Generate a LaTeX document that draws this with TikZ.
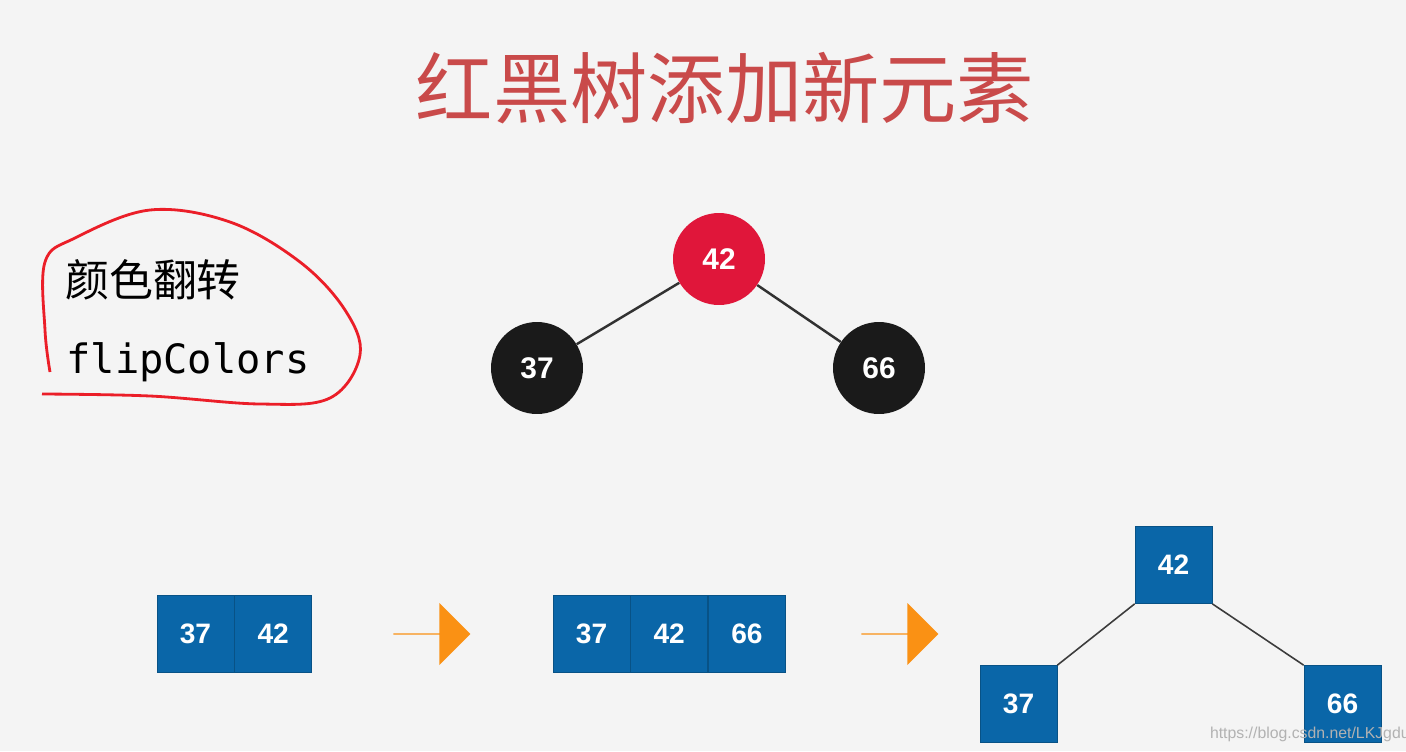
\documentclass[tikz,border=0pt]{standalone}
\usepackage{fontspec}
\setmainfont{Liberation Sans}
\newfontfamily\cjk{Noto Sans CJK SC}
\setmonofont{DejaVu Sans Mono}
\usetikzlibrary{shapes.arrows}
\definecolor{bg}{RGB}{244, 244, 244}
\definecolor{title}{RGB}{201, 74, 74}
\definecolor{rbred}{RGB}{224, 22, 58}
\definecolor{rbblack}{RGB}{26, 26, 26}
\definecolor{keyblue}{RGB}{10, 102, 168}
\definecolor{fliporange}{RGB}{250, 145, 20}
\definecolor{penred}{RGB}{235, 30, 40}

\tikzset{
  rbnode/.style={circle, minimum size=1.84cm, inner sep=0pt, text=white,
    font=\bfseries\fontsize{17}{17}\selectfont},
  keybox/.style={rectangle, fill=keyblue, draw=keyblue!80!black, line width=0.4pt,
    minimum size=1.54cm, inner sep=0pt, text=white,
    font=\bfseries\fontsize{16}{16}\selectfont},
  fliparrow/.style={single arrow, fill=fliporange, minimum height=1.54cm,
    minimum width=1.24cm, single arrow head extend=0.31cm, inner sep=0pt},
  treeedge/.style={line width=1.4pt, rbblack!90}
}

\begin{document}
\begin{tikzpicture}[x=0.02cm, y=-0.02cm]
  \fill [bg] (0, 0) rectangle (1406, 751);
  \useasboundingbox (0, 0) rectangle (1406, 751);

  \node (title) at (725, 88) [text=title, font=\cjk\fontsize{44}{44}\selectfont] {红黑树添加新元素};

  % colour flip note
  \node (flipcn) at (153, 280) [font=\cjk\fontsize{25}{25}\selectfont] {颜色翻转};
  \node (flipen) at (188, 362) [font=\ttfamily\fontsize{23}{23}\selectfont] {flipColors};
  \draw [penred, line width=1.6pt] plot [smooth, tension=0.6] coordinates {
    (50, 372) (45, 330) (45, 262) (75, 238) (150, 210) (230, 222) (300, 262)
    (345, 310) (360, 355) (330, 398) (260, 404) (150, 396) (42, 394)};

  % red-black tree
  \node [rbnode, fill=rbred] (root) at (719, 259) {42};
  \node [rbnode, fill=rbblack] (left) at (537, 368) {37};
  \node [rbnode, fill=rbblack] (right) at (879, 368) {66};
  \draw [treeedge] (root) -- (left);
  \draw [treeedge] (root) -- (right);

  % 2-3 tree steps
  \node [keybox] (a37) at (195.5, 634) {37};
  \node [keybox, anchor=west] (a42) at (a37.east) {42};
  \node [fliparrow] (step1) at (431.5, 634) {};
  \node [keybox] (b37) at (591.5, 634) {37};
  \node [keybox, anchor=west] (b42) at (b37.east) {42};
  \node [keybox, anchor=west] (b66) at (b42.east) {66};
  \node [fliparrow] (step2) at (899.5, 634) {};
  \node [keybox] (c42) at (1173.5, 565) {42};
  \node [keybox] (c37) at (1018.5, 704) {37};
  \node [keybox] (c66) at (1342.5, 704) {66};
  \draw [rbblack!85, line width=0.9pt] (c42.south west) -- (c37.north east);
  \draw [rbblack!85, line width=0.9pt] (c42.south east) -- (c66.north west);

  \node (url) at (1312, 734) [text=black!30, font=\fontsize{9}{9}\selectfont] {https://blog.csdn.net/LKJgdut};
\end{tikzpicture}
\end{document}
